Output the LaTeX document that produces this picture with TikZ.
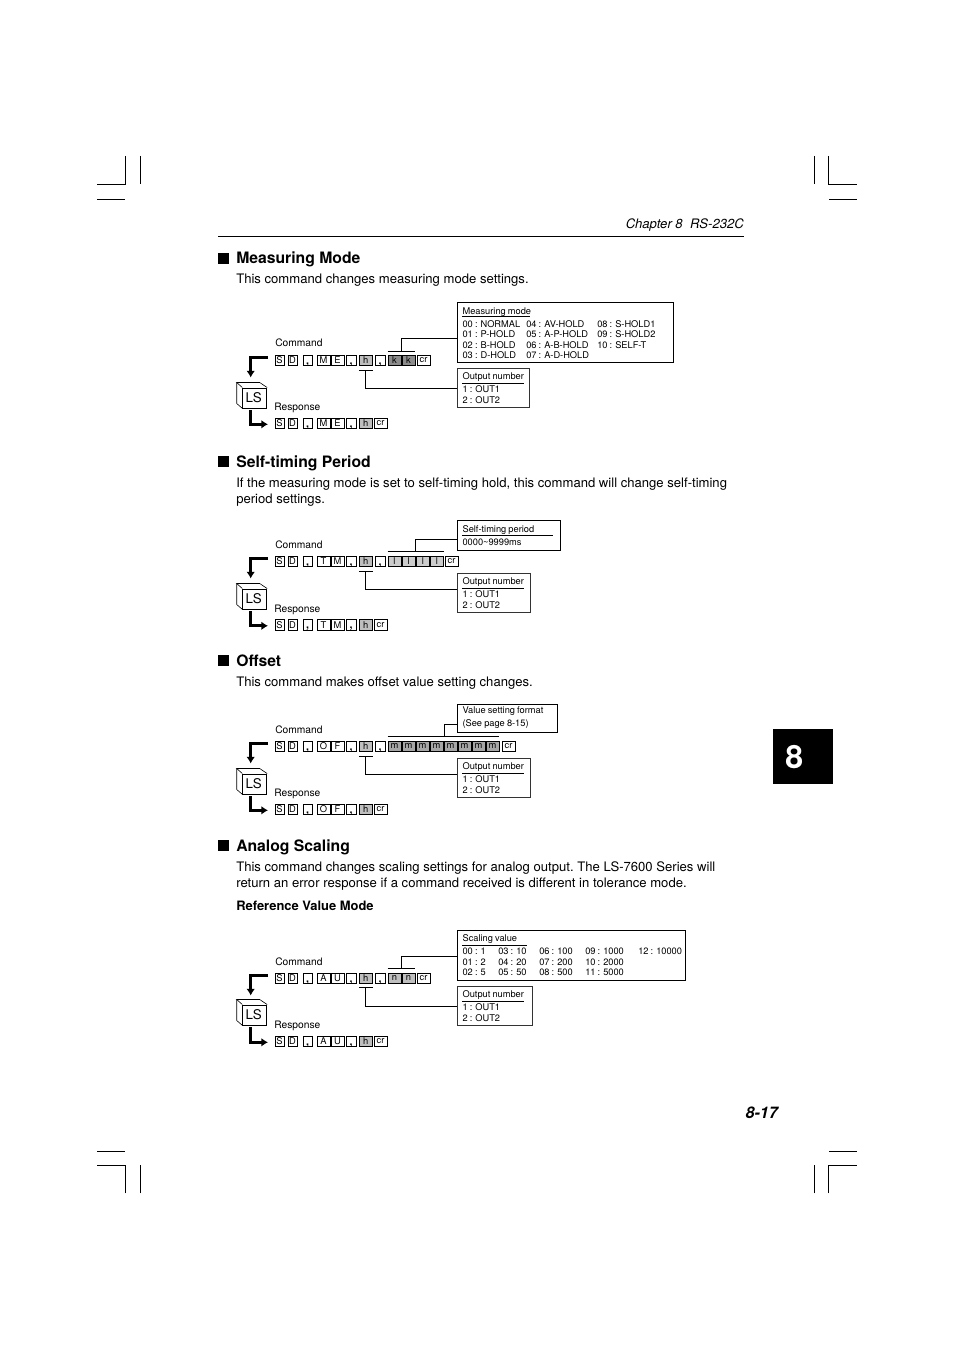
\documentclass[tikz,border=0pt]{standalone}
\usepackage{fontspec}
\setmainfont{TeX Gyre Heros}
\usetikzlibrary{arrows.meta}
\newcommand{\boxfont}{\fontsize{6.95}{8}\selectfont\setlength{\spaceskip}{0.23em}}
\newcommand{\lowcomma}{\raisebox{-1.4pt}[3pt][0pt]{,}}
\tikzset{
  txt/.style={anchor=base west,inner sep=0pt,font=\frenchspacing\fontsize{9.82}{12}\selectfont},
  headtxt/.style={anchor=base west,inner sep=0pt,font=\bfseries\fontsize{11.8}{14}\selectfont},
  boxtxt/.style={anchor=base west,inner sep=0pt,font=\boxfont},
  labtxt/.style={anchor=base west,inner sep=0pt,font=\fontsize{7.7}{9}\selectfont},
  celltxt/.style={draw,line width=0.45pt,inner sep=0pt,minimum height=8pt,font=\fontsize{7}{8}\selectfont},
  commacell/.style={celltxt,font=\bfseries\fontsize{8}{8}\selectfont},
  valbox/.style={draw,line width=0.75pt,anchor=north west,inner sep=0pt},
  outbox/.style={draw=black!80,line width=0.75pt,anchor=north west,inner sep=0pt},
  conn/.style={line width=0.7pt},
  flow/.style={line width=2.1pt,-{Latex[length=5pt,width=6.5pt]}},
  crop/.style={line width=0.75pt}
}
\begin{document}
\begin{tikzpicture}[x=0.75pt,y=-0.75pt]
\useasboundingbox (0,0) rectangle (954,1351);
% crop marks
\draw[crop] (125.7,156) -- (125.7,184.3) -- (97.3,184.3);
\draw[crop] (140.3,156) -- (140.3,184.5); \draw[crop] (97.3,199.3) -- (125,199.3);
\draw[crop] (828.7,156) -- (828.7,184.3) -- (857,184.3);
\draw[crop] (814.3,156) -- (814.3,184.5); \draw[crop] (829,199.3) -- (857,199.3);
\draw[crop] (125.7,1193.3) -- (125.7,1165.3) -- (97.3,1165.3);
\draw[crop] (140.3,1193.3) -- (140.3,1165.3); \draw[crop] (97.3,1151.3) -- (125,1151.3);
\draw[crop] (828.7,1193.3) -- (828.7,1165.3) -- (857,1165.3);
\draw[crop] (814.3,1193.3) -- (814.3,1165.3); \draw[crop] (829,1151.3) -- (857,1151.3);
% page furniture
\node[anchor=base east,inner sep=0pt,font=\itshape\fontsize{9.8}{12}\selectfont] (chap) at (744,229) {Chapter 8\ \ RS-232C};
\draw[line width=0.75pt] (218,237) -- (744,237);
\node[fill=black,minimum width=45pt,minimum height=41pt,inner sep=0pt,anchor=north west,text=white,font=\bfseries\fontsize{24}{26}\selectfont] (tab) at (773,729) {\hspace*{-13.5pt}8};
\node[anchor=base east,inner sep=0pt,font=\bfseries\itshape\fontsize{12}{15}\selectfont] (pageno) at (778,1118) {8-17};
% section texts
\foreach \sec/\yh/\t in {1/264/Measuring Mode,2/467/Self-timing Period,3/666/Offset,4/851/Analog Scaling}{
  \fill (218,\yh-11) rectangle (229,\yh);
  \node[headtxt] (head\sec) at (236,\yh) {\t};
}
\node[txt] (body1) at (236,283.5) {This command changes measuring mode settings.};
\node[txt] (body2a) at (236,487) {If the measuring mode is set to self-timing hold, this command will change self-timing};
\node[txt] (body2b) at (236,503) {period settings.};
\node[txt] (body3) at (236,686) {This command makes offset value setting changes.};
\node[txt] (body4a) at (236,871) {This command changes scaling settings for analog output. The LS-7600 Series will};
\node[txt] (body4b) at (236,887) {return an error response if a command received is different in tolerance mode.};
\node[txt,font=\bfseries\fontsize{9.7}{12}\selectfont] (body4c) at (236,910) {Reference Value Mode};
% command and response rows, LS block
\foreach \sec/\yc/\yr/\yl/\cA/\cB in {1/355/418/387.5/M/E,2/556/619.5/588.5/T/M,3/741/804/773.5/O/F,4/973/1036/1004.5/A/U}{
  \node[labtxt] (cmdlab\sec) at (275,\yc-8) {Command};
  \node[labtxt] (resplab\sec) at (274,\yr-7.2) {Response};
  \foreach \rw/\yy in {c/\yc,r/\yr}{
    \foreach \nm/\l/\w/\t in {s/275/9/S,d/288/9/D,x/317/13/\cA,y/331/13/\cB}
      \node[celltxt,minimum width=\w*0.75pt] (\rw\nm\sec) at (\l+\w/2,\yy+5.3) {\t};
    \foreach \nm/\l/\w in {ca/303/9,cb/346/10}
      \node[commacell,minimum width=\w*0.75pt] (\rw\nm\sec) at (\l+\w/2,\yy+5.3) {\lowcomma};
    \node[celltxt,fill=black!25,minimum width=9.75pt] (\rw h\sec) at (365.7,\yy+5.3) {h};
  }
  \node[commacell,minimum width=7.5pt] (ccc\sec) at (380,\yc+5.3) {\lowcomma};
  \node[celltxt,minimum width=9.75pt] (rcr\sec) at (380.5,\yr+5.3) {cr};
  % LS cube
  \node[draw,line width=0.6pt,minimum width=18pt,minimum height=15pt,inner sep=0pt,anchor=north west,font=\fontsize{10}{12}\selectfont] (ls\sec) at (242.3,\yl) {LS\hspace*{1.5pt}};
  \draw[line width=0.45pt] (ls\sec.north west) -- ++(-5.6,-5) -- ++(23,0) -- (ls\sec.north east);
  \draw[line width=0.45pt] (ls\sec.north west) ++(-5.6,-5) -- ++(0,21) -- (ls\sec.south west);
  % flow arrows
  \coordinate (fin\sec) at (268,\yc+2.3);
  \coordinate (fdn\sec) at (250.7,\yc+22.5);
  \coordinate (fup\sec) at (250.7,\yl+22.5);
  \coordinate (fout\sec) at (268,\yr+6.3);
  \draw[flow] (fin\sec) -| (fdn\sec);
  \draw[flow] (fup\sec) |- (fout\sec);
}
% value cells
\foreach \i/\l/\f in {1/388/45,2/402/45}
  \node[celltxt,fill=black!\f,minimum width=9.75pt] (kk\i) at (\l+6.5,360.3) {k};
\node[celltxt,minimum width=9.75pt] (ccr1) at (423.5,360.3) {cr};
\foreach \i/\l in {1/388,2/402.3,3/416.6,4/430.5}
  \node[celltxt,fill=black!20,minimum width=9.75pt] (ll\i) at (\l+6.3,561.3) {l};
\node[celltxt,minimum width=9.5pt] (ccr2) at (451.5,561.3) {cr};
\foreach \i in {0,...,7}
  \node[celltxt,fill=black!35,minimum width=9.75pt] (mm\i) at (394.5+\i*14,746.3) {m};
\node[celltxt,minimum width=9.5pt] (ccr3) at (508.5,746.3) {cr};
\foreach \i/\l in {1/388,2/402}
  \node[celltxt,fill=black!25,minimum width=9.75pt] (nn\i) at (\l+6.5,978.3) {n};
\node[celltxt,minimum width=9.75pt] (ccr4) at (423.5,978.3) {cr};
% value boxes
\node[valbox,minimum width=162pt,minimum height=45pt] (modebox) at (457.3,302.3) {};
\node[valbox,minimum width=77pt,minimum height=22.3pt] (timebox) at (457.3,520.3) {};
\node[valbox,minimum width=75pt,minimum height=21.2pt] (fmtbox) at (457.3,704) {};
\node[valbox,minimum width=171pt,minimum height=37.5pt] (scalebox) at (457.3,930.3) {};
\node[boxtxt] (modeT) at (462.3,314.5) {Measuring mode};
\draw[conn] (462,316.3) -- (530,316.3);
\foreach \n/\x/\y/\t in {a/462.3/327.7/00 : NORMAL,b/462.3/338/01 : P-HOLD,c/462.3/348.3/02 : B-HOLD,d/462.3/358.6/03 : D-HOLD,
  e/526/327.7/04 : AV-HOLD,f/526/338/05 : A-P-HOLD,g/526/348.3/06 : A-B-HOLD,h/526/358.6/07 : A-D-HOLD,
  i/597/327.7/08 : S-HOLD1,j/597/338/09 : S-HOLD2,k/597/348.3/10 : SELF-T}
  \node[boxtxt] (mode\n) at (\x,\y) {\t};
\node[boxtxt] (timeT) at (462.3,532) {Self-timing period};
\draw[conn] (462,535) -- (553,535);
\node[boxtxt] (timeA) at (462.3,545.5) {0000\textasciitilde 9999ms};
\node[boxtxt] (fmtA) at (462.3,713) {Value setting format};
\node[boxtxt] (fmtB) at (462.3,726) {(See page 8-15)};
\node[boxtxt] (scaleT) at (462.3,941) {Scaling value};
\draw[conn] (462,945) -- (527,945);
\foreach \n/\x/\y/\t in {a/462.3/954.5/00 : 1,b/462.3/965/01 : 2,c/462.3/975/02 : 5,
  d/498/954.5/03 : 10,e/498/965/04 : 20,f/498/975/05 : 50,
  g/539/954.5/06 : 100,h/539/965/07 : 200,i/539/975/08 : 500,
  j/585/954.5/09 : 1000,k/585/965/10 : 2000,l/585/975/11 : 5000,m/638/954.5/12 : 10000}
  \node[boxtxt] (scale\n) at (\x,\y) {\t};
% output boxes
\foreach \sec/\top/\wid in {1/367.7/54,2/572.7/54.75,3/757.7/54.75,4/985.7/56.25}{
  \node[outbox,minimum width=\wid pt,minimum height=29.6pt] (outp\sec) at (457.3,\top) {};
  \node[boxtxt] (outT\sec) at (462.3,\top+11.5) {Output number};
  \draw[conn] (462,\top+15.6) -- (524,\top+15.6);
  \node[boxtxt] (outA\sec) at (462.3,\top+25) {1 : OUT1};
  \node[boxtxt] (outB\sec) at (462.3,\top+36) {2 : OUT2};
}
% connectors
\foreach \sec/\yb/\yo in {1/370.3/388.3,2/571.7/589,3/756.7/774,4/987.3/1006}{
  \coordinate (ub\sec) at (365.5,\yb);
  \coordinate (ot\sec) at (457.3,\yo);
  \draw[conn] (ch\sec.west |- ub\sec) -- (ch\sec.east |- ub\sec);
  \draw[conn] (ub\sec) |- (ot\sec);
}
\coordinate (ob1) at (401.3,351.7); \coordinate (mt1) at (457.3,338.7);
\draw[conn] (kk1.west |- ob1) -- (kk2.east |- ob1); \draw[conn] (ob1) |- (mt1);
\coordinate (ob2) at (415,551); \coordinate (mt2) at (457.3,539.3);
\draw[conn] (ll1.west |- ob2) -- (ll4.east |- ob2); \draw[conn] (ob2) |- (mt2);
\coordinate (ob3) at (444.3,736); \coordinate (mt3) at (457.3,724.3);
\draw[conn] (mm0.west |- ob3) -- (mm7.east |- ob3); \draw[conn] (ob3) |- (mt3);
\coordinate (ob4) at (401.3,968.3); \coordinate (mt4) at (457.3,956.3);
\draw[conn] (nn1.west |- ob4) -- (nn2.east |- ob4); \draw[conn] (ob4) |- (mt4);
\end{tikzpicture}
\end{document}
